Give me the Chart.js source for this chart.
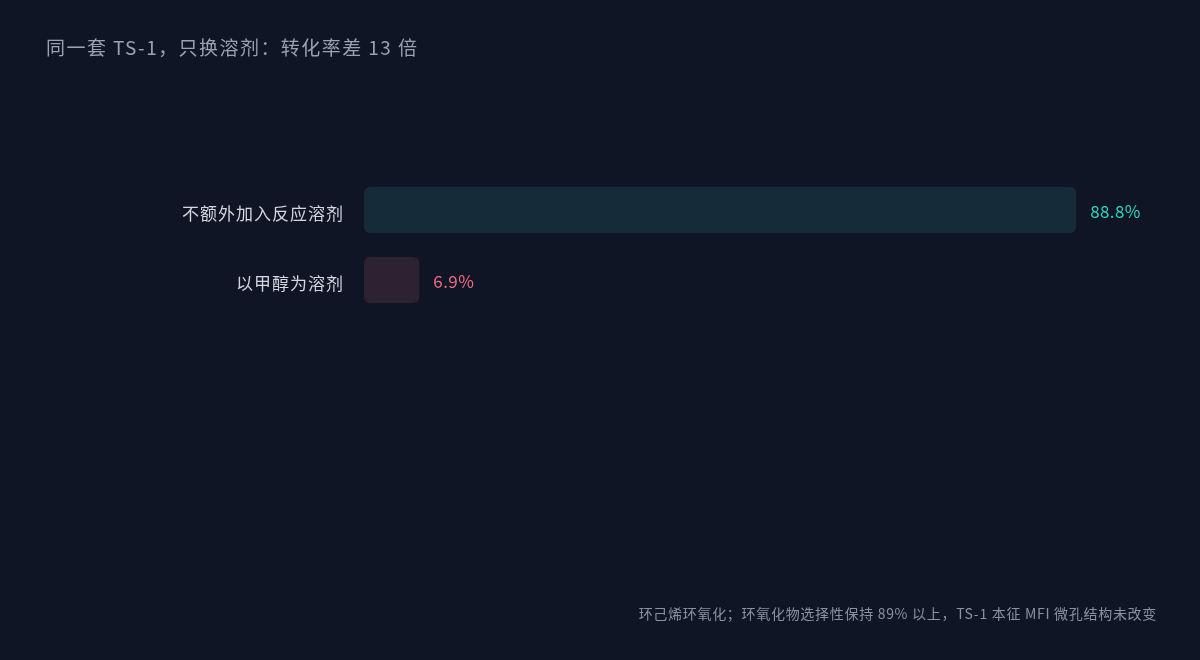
<!DOCTYPE html>
<html>
<head>
<meta charset="utf-8">
<script src="https://cdn.jsdelivr.net/npm/chart.js@4.4.1/dist/chart.umd.min.js"></script>
<style>
  html, body { margin: 0; padding: 0; background: #0f1524; }
  #wrap { width: 1200px; height: 660px; position: relative; }
</style>
</head>
<body>
<div id="wrap"><canvas id="chart"></canvas></div>
<script>
const categories = ['不额外加入反应溶剂', '以甲醇为溶剂'];
const conversion = [88.8, 6.9];
const valueLabels = ['88.8%', '6.9%'];
const titleText = '同一套 TS-1，只换溶剂：转化率差 13 倍';
const noteText = '环己烯环氧化；环氧化物选择性保持 89% 以上，TS-1 本征 MFI 微孔结构未改变';

const FONT = '"Noto Sans CJK SC", "Noto Sans", sans-serif';
const barFill = ['#162b39', '#2c2232'];
const textColors = ['#2dd4bf', '#f06b84'];

// slightly wider letter spacing for the axis labels
const spacingPlugin = {
  id: 'spacing',
  beforeDraw(chart) { chart.ctx.letterSpacing = '1px'; }
};

// title, footnote and value labels drawn straight on the canvas
const textPlugin = {
  id: 'texts',
  afterDatasetsDraw(chart) {
    const ctx = chart.ctx;
    ctx.save();
    ctx.textBaseline = 'middle';
    ctx.letterSpacing = '0.4px';
    ctx.font = '17px ' + FONT;
    chart.getDatasetMeta(0).data.forEach((bar, i) => {
      ctx.fillStyle = textColors[i];
      ctx.textAlign = 'left';
      ctx.fillText(valueLabels[i], bar.x + 14, bar.y + 2);
    });
    ctx.letterSpacing = '1.45px';
    ctx.font = '19px ' + FONT;
    ctx.fillStyle = '#99a2b1';
    ctx.textAlign = 'left';
    ctx.fillText(titleText, 46, 48);
    ctx.letterSpacing = '0.7px';
    ctx.font = '14px ' + FONT;
    ctx.fillStyle = '#8a92a0';
    ctx.textAlign = 'right';
    ctx.fillText(noteText, 1157, 614);
    ctx.restore();
  }
};

new Chart(document.getElementById('chart'), {
  type: 'bar',
  data: {
    labels: categories,
    datasets: [{
      data: conversion,
      backgroundColor: barFill,
      borderRadius: 6,
      borderSkipped: false,
      barPercentage: 1,
      categoryPercentage: 0.657
    }]
  },
  options: {
    indexAxis: 'y',
    responsive: true,
    maintainAspectRatio: false,
    animation: false,
    layout: { padding: { top: 175, bottom: 345, left: 0, right: 34 } },
    plugins: {
      legend: { display: false },
      tooltip: { enabled: false }
    },
    scales: {
      x: {
        min: 0,
        max: 100,
        display: false
      },
      y: {
        grid: { display: false },
        border: { display: false },
        afterFit(axis) { axis.width = 364; },
        ticks: {
          padding: 12,
          labelOffset: 4,
          color: '#d3d7de',
          font: { family: FONT, size: 17 }
        }
      }
    }
  },
  plugins: [spacingPlugin, textPlugin]
});
</script>
</body>
</html>
